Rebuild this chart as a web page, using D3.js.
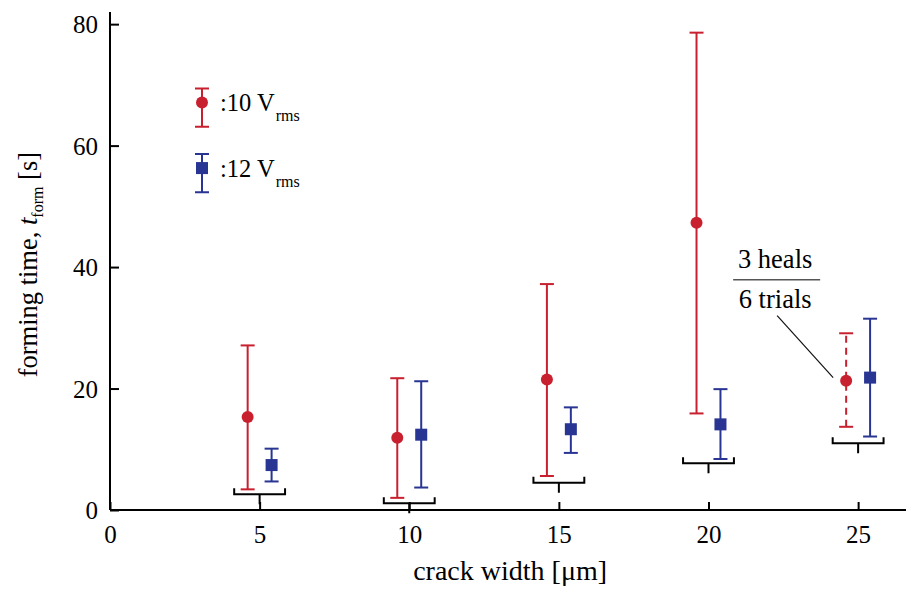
<!DOCTYPE html>
<html>
<head>
<meta charset="utf-8">
<script src="https://cdn.jsdelivr.net/npm/d3@7"></script>
<style>
  body { margin: 0; background: #fff; }
</style>
</head>
<body>
<div id="app"></div>
<script>
const OUTER = { width: 906, height: 590 };
const MARGIN = { top: 12, right: 0, bottom: 80, left: 110 };
const INNER = {
  width: OUTER.width - MARGIN.left - MARGIN.right,
  height: OUTER.height - MARGIN.top - MARGIN.bottom,
};
const RED = "#c8202f";
const BLUE = "#283593";
const FONT = "Liberation Serif, Times New Roman, serif";

// crack widths (um)
const widths = [5, 10, 15, 20, 25];

// 10 Vrms: mean, low, high
const red_mean = [15.3, 11.9, 21.5, 47.3, 21.3];
const red_low = [3.4, 2.0, 5.6, 15.9, 13.7];
const red_high = [27.1, 21.7, 37.2, 78.6, 29.1];
const red_dashed = [false, false, false, false, true];

// 12 Vrms: mean, low, high
const blue_mean = [7.4, 12.4, 13.3, 14.1, 21.8];
const blue_low = [4.7, 3.7, 9.4, 8.4, 12.1];
const blue_high = [10.1, 21.2, 16.9, 19.9, 31.5];

// bracket level under each group
const bracket_level = [2.6, 1.1, 4.5, 7.7, 11.0];

const xTicks = [0, 5, 10, 15, 20, 25];
const yTicks = [0, 20, 40, 60, 80];

const DODGE = 0.4;
const CAP = 7;

const xScale = d3.scaleLinear()
  .domain([0, 26.6])
  .range([0, INNER.width]);

const yScale = d3.scaleLinear()
  .domain([0, 82])
  .range([INNER.height, 0]);

const makeSeries = (mean, low, high, dx, dashed) =>
  widths.map((w, i) => ({
    x: w + dx, mean: mean[i], low: low[i], high: high[i],
    dashed: dashed ? dashed[i] : false,
  }));

const txt = (sel, size) => sel
  .attr('font-family', FONT)
  .style('font-family', FONT)
  .attr('font-size', size)
  .style('font-size', size + 'px')
  .attr('fill', '#000');

const drawErrorBars = (g, data, color) => {
  const bars = g.append('g').selectAll('g')
    .data(data)
    .join('g')
    .attr('stroke', color)
    .attr('stroke-width', 2)
    .attr('fill', 'none');
  bars.append('line')
    .attr('x1', d => xScale(d.x)).attr('x2', d => xScale(d.x))
    .attr('y1', d => yScale(d.low)).attr('y2', d => yScale(d.high))
    .attr('stroke-dasharray', d => d.dashed ? '7,5' : null);
  bars.append('line')
    .attr('x1', d => xScale(d.x) - CAP).attr('x2', d => xScale(d.x) + CAP)
    .attr('y1', d => yScale(d.high)).attr('y2', d => yScale(d.high));
  bars.append('line')
    .attr('x1', d => xScale(d.x) - CAP).attr('x2', d => xScale(d.x) + CAP)
    .attr('y1', d => yScale(d.low)).attr('y2', d => yScale(d.low));
}

const addChart = () => {
  const svg = d3.select('#app')
    .append('svg')
    .attr('width', OUTER.width)
    .attr('height', OUTER.height)
    .attr('font-family', FONT);

  const g = svg.append('g')
    .attr('transform', `translate(${MARGIN.left}, ${MARGIN.top})`);

  // axes
  const xAxis = g.append('g')
    .attr('transform', `translate(0, ${INNER.height})`)
    .call(d3.axisBottom(xScale).tickValues(xTicks).tickSizeInner(-8).tickSizeOuter(0).tickPadding(15));
  const yAxis = g.append('g')
    .call(d3.axisLeft(yScale).tickValues(yTicks).tickSizeInner(-9).tickSizeOuter(0).tickPadding(12));
  [xAxis, yAxis].forEach(a => {
    a.attr('font-family', FONT).attr('font-size', 25);
    a.select('.domain').attr('stroke', '#000').attr('stroke-width', 2);
    a.selectAll('.tick line').attr('stroke', '#000').attr('stroke-width', 2);
    txt(a.selectAll('.tick text'), 25);
  });
  xAxis.select('.domain').attr('d', `M0,0H${INNER.width}`);
  yAxis.select('.domain').attr('d', `M0,0V${INNER.height}`);
  xAxis.selectAll('.tick text').attr('dy', '0.71em');
  yAxis.selectAll('.tick text').attr('dy', '0.35em');

  // brackets
  g.append('g').selectAll('path')
    .data(widths.map((w, i) => ({ x: w, y: bracket_level[i] })))
    .join('path')
    .attr('fill', 'none')
    .attr('stroke', '#000')
    .attr('stroke-width', 2)
    .attr('d', d => {
      const x0 = xScale(d.x - 0.85), x1 = xScale(d.x + 0.85), xm = xScale(d.x);
      const y = yScale(d.y);
      return `M${x0},${y - 6}V${y}H${x1}V${y - 6}M${xm},${y}V${y + 10}`;
    });

  // series
  const red = makeSeries(red_mean, red_low, red_high, -DODGE, red_dashed);
  const blue = makeSeries(blue_mean, blue_low, blue_high, DODGE);
  drawErrorBars(g, red, RED);
  drawErrorBars(g, blue, BLUE);

  g.append('g').selectAll('circle')
    .data(red)
    .join('circle')
    .attr('cx', d => xScale(d.x))
    .attr('cy', d => yScale(d.mean))
    .attr('r', 6)
    .attr('fill', RED);
  g.append('g').selectAll('rect')
    .data(blue)
    .join('rect')
    .attr('x', d => xScale(d.x) - 6)
    .attr('y', d => yScale(d.mean) - 6)
    .attr('width', 12)
    .attr('height', 12)
    .attr('fill', BLUE);

  // legend
  const legend = [
    { label: ':10 V', color: RED, shape: 'circle', y: 67.1, hi: 69.4, lo: 63.1 },
    { label: ':12 V', color: BLUE, shape: 'rect', y: 56.3, hi: 58.6, lo: 52.3 },
  ];
  const lx = 92;
  const lg = g.append('g').selectAll('g')
    .data(legend)
    .join('g');
  lg.append('path')
    .attr('fill', 'none')
    .attr('stroke', d => d.color)
    .attr('stroke-width', 2)
    .attr('d', d => {
      const h = yScale(d.hi), l = yScale(d.lo);
      return `M${lx - CAP},${h}H${lx + CAP}M${lx},${h}V${l}M${lx - CAP},${l}H${lx + CAP}`;
    });
  lg.filter(d => d.shape === 'circle').append('circle')
    .attr('cx', lx).attr('cy', d => yScale(d.y)).attr('r', 6).attr('fill', d => d.color);
  lg.filter(d => d.shape === 'rect').append('rect')
    .attr('x', lx - 6).attr('y', d => yScale(d.y) - 6)
    .attr('width', 12).attr('height', 12).attr('fill', d => d.color);
  const lt = txt(lg.append('text'), 24.5)
    .attr('x', lx + 18)
    .attr('y', d => yScale(d.y) + 8.5);
  lt.append('tspan').text(d => d.label);
  txt(lt.append('tspan'), 16).attr('dy', 10).attr('dx', 1).text('rms');

  // annotation on the dashed point
  const ap = red[4];
  const ax = xScale(ap.x), ay = yScale(ap.mean);
  const tx = ax - 71;
  txt(g.append('text'), 26.5)
    .attr('x', tx).attr('y', ay - 113)
    .attr('text-anchor', 'middle')
    .text('3 heals');
  g.append('line')
    .attr('x1', tx - 42).attr('x2', tx + 45)
    .attr('y1', ay - 101).attr('y2', ay - 101)
    .attr('stroke', '#555').attr('stroke-width', 1.5);
  txt(g.append('text'), 26.5)
    .attr('x', tx).attr('y', ay - 73)
    .attr('text-anchor', 'middle')
    .text('6 trials');
  g.append('line')
    .attr('x1', ax - 69).attr('y1', ay - 65)
    .attr('x2', ax - 13).attr('y2', ay - 3)
    .attr('stroke', '#111').attr('stroke-width', 1.2);

  // axis titles
  txt(svg.append('text'), 28)
    .attr('x', MARGIN.left + xScale(13.37))
    .attr('y', 580)
    .attr('text-anchor', 'middle')
    .text('crack width [μm]');

  const yt = txt(svg.append('text'), 26.5)
    .attr('transform', `translate(37, ${MARGIN.top + yScale(40.4)}) rotate(-90)`)
    .attr('text-anchor', 'middle');
  yt.append('tspan').text('forming time, ');
  yt.append('tspan').attr('font-style', 'italic').style('font-style', 'italic').text('t');
  txt(yt.append('tspan'), 16).attr('dy', 6).text('form');
  yt.append('tspan').attr('dy', -6).text(' [s]');

  return g;
}

addChart();
</script>
</body>
</html>
